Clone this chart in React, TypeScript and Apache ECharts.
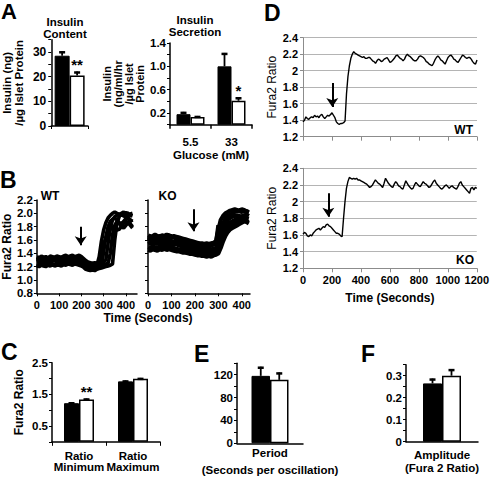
import React, { useEffect, useRef } from "react";
import * as echarts from "echarts";

const FONT = "Liberation Sans, Arial, sans-serif";
const NARROW = "Liberation Sans Narrow, Liberation Sans, Arial, sans-serif";

// ---- Panel A ----
const CONTENT_WT = [28.5];
const CONTENT_WT_ERR = [1.8];
const CONTENT_KO = [20.5];
const CONTENT_KO_ERR = [1.6];
const CONTENT_STARS = ["**"];

const GLUCOSE = ["5.5", "33"];
const SECRETION_WT = [0.18, 1.0];
const SECRETION_WT_ERR = [0.04, 0.23];
const SECRETION_KO = [0.13, 0.41];
const SECRETION_KO_ERR = [0.02, 0.06];
const SECRETION_STARS = ["", "*"];

// ---- Panel B (Fura2 ratio traces, sampled every 10 s) ----
const TIME_STEP = 10;
const B_RATIO_TICKS = [0.8, 1.0, 1.2, 1.4, 1.6, 1.8, 2.0, 2.2];
const B_WT_CELLS = [
  [1.30,1.32,1.29,1.31,1.30,1.33,1.31,1.30,1.32,1.31,1.30,1.32,1.33,1.31,1.32,1.34,1.33,1.32,1.33,1.31,1.30,1.28,1.25,1.24,1.23,1.22,1.23,1.22,1.35,1.58,1.75,1.86,1.93,1.97,2.00,2.02,2.00,1.98,1.97,1.99,2.01,2.00,1.97,1.96],
  [1.24,1.22,1.25,1.23,1.24,1.22,1.25,1.24,1.23,1.25,1.24,1.26,1.25,1.24,1.26,1.27,1.25,1.26,1.27,1.25,1.24,1.22,1.19,1.17,1.16,1.17,1.16,1.17,1.18,1.20,1.42,1.65,1.80,1.88,1.91,1.93,1.90,1.86,1.84,1.88,1.92,1.94,1.90,1.88],
  [1.35,1.33,1.36,1.34,1.35,1.33,1.36,1.35,1.34,1.36,1.35,1.34,1.36,1.37,1.35,1.36,1.37,1.35,1.36,1.37,1.35,1.32,1.29,1.27,1.26,1.25,1.26,1.25,1.26,1.25,1.27,1.30,1.55,1.78,1.90,1.95,1.97,1.99,1.98,1.96,1.95,1.97,1.99,2.00],
  [1.27,1.28,1.26,1.28,1.27,1.29,1.27,1.28,1.29,1.27,1.28,1.29,1.28,1.30,1.29,1.30,1.29,1.31,1.30,1.29,1.27,1.25,1.22,1.20,1.19,1.18,1.19,1.20,1.21,1.22,1.23,1.24,1.25,1.40,1.68,1.82,1.88,1.85,1.80,1.78,1.82,1.86,1.84,1.80],
  [1.21,1.20,1.22,1.21,1.20,1.22,1.21,1.23,1.21,1.22,1.22,1.21,1.23,1.22,1.24,1.23,1.22,1.24,1.23,1.22,1.21,1.19,1.16,1.15,1.14,1.15,1.14,1.16,1.17,1.18,1.19,1.20,1.21,1.22,1.24,1.60,1.85,1.95,2.00,2.02,1.98,1.92,1.88,1.90],
  [1.32,1.30,1.31,1.33,1.31,1.30,1.32,1.31,1.33,1.32,1.31,1.33,1.32,1.31,1.33,1.32,1.34,1.33,1.32,1.34,1.31,1.28,1.25,1.22,1.21,1.20,1.21,1.22,1.28,1.40,1.55,1.62,1.70,1.76,1.80,1.78,1.75,1.76,1.80,1.85,1.88,1.86,1.82,1.78],
];
const B_KO_CELLS = [
  [1.64,1.62,1.65,1.63,1.64,1.66,1.64,1.63,1.65,1.64,1.63,1.64,1.62,1.61,1.60,1.59,1.58,1.57,1.56,1.55,1.54,1.53,1.52,1.51,1.52,1.51,1.50,1.52,1.53,1.55,1.82,1.75,1.85,1.92,1.96,1.98,2.00,2.02,2.04,2.03,2.02,2.04,2.03,2.01],
  [1.59,1.60,1.58,1.60,1.59,1.61,1.59,1.60,1.58,1.59,1.58,1.57,1.58,1.56,1.55,1.54,1.53,1.52,1.51,1.50,1.49,1.48,1.47,1.46,1.47,1.46,1.45,1.46,1.47,1.48,1.60,1.72,1.80,1.86,1.90,1.93,1.95,1.96,1.97,1.96,1.95,1.97,1.98,1.96],
  [1.54,1.55,1.53,1.55,1.54,1.56,1.55,1.54,1.56,1.55,1.54,1.53,1.54,1.52,1.51,1.50,1.49,1.48,1.47,1.46,1.45,1.44,1.43,1.42,1.43,1.42,1.41,1.42,1.43,1.44,1.52,1.65,1.73,1.78,1.82,1.86,1.88,1.90,1.92,1.93,1.94,1.95,1.93,1.92],
  [1.49,1.48,1.50,1.49,1.48,1.50,1.49,1.51,1.49,1.50,1.49,1.48,1.47,1.46,1.46,1.45,1.44,1.43,1.42,1.41,1.40,1.39,1.39,1.38,1.37,1.38,1.37,1.38,1.39,1.42,1.50,1.62,1.70,1.74,1.78,1.81,1.84,1.86,1.87,1.88,1.90,1.89,1.88,1.87],
  [1.45,1.44,1.46,1.45,1.44,1.46,1.45,1.47,1.45,1.46,1.45,1.44,1.43,1.43,1.42,1.41,1.41,1.40,1.39,1.39,1.38,1.37,1.37,1.36,1.36,1.35,1.36,1.35,1.37,1.38,1.40,1.48,1.58,1.66,1.72,1.76,1.78,1.80,1.82,1.84,1.86,1.88,1.87,1.85],
  [1.67,1.65,1.66,1.68,1.66,1.65,1.67,1.66,1.68,1.67,1.65,1.66,1.65,1.64,1.63,1.62,1.61,1.60,1.59,1.58,1.57,1.56,1.55,1.55,1.54,1.55,1.54,1.55,1.56,1.58,1.75,1.90,1.96,2.00,2.02,2.04,2.05,2.06,2.05,2.04,2.06,2.05,2.03,2.02],
];
const B_WT_ARROW = [[197, 1.8], [197, 1.52]];
const B_KO_ARROW = [[194, 2.06], [194, 1.73]];

// ---- Panel C ----
const RATIO_CATS = ["Ratio\nMinimum", "Ratio\nMaximum"];
const RATIO_WT = [1.22, 1.91];
const RATIO_WT_ERR = [0.03, 0.03];
const RATIO_KO = [1.34, 1.99];
const RATIO_KO_ERR = [0.03, 0.03];
const RATIO_STARS = ["**", ""];

// ---- Panel D (single islets, sampled every 10 s) ----
const D_WT = [1.38,1.40,1.44,1.42,1.41,1.43,1.44,1.43,1.46,1.44,1.45,1.43,1.46,1.47,1.44,1.42,1.44,1.46,1.45,1.47,1.49,1.46,1.43,1.38,1.36,1.35,1.36,1.36,1.37,1.39,1.72,1.93,2.06,2.15,2.20,2.23,2.21,2.20,2.19,2.18,2.17,2.16,2.17,2.15,2.15,2.16,2.16,2.14,2.12,2.11,2.09,2.12,2.14,2.13,2.11,2.12,2.14,2.15,2.16,2.13,2.10,2.11,2.13,2.15,2.18,2.19,2.17,2.15,2.14,2.12,2.14,2.18,2.20,2.18,2.17,2.15,2.13,2.12,2.12,2.14,2.17,2.18,2.17,2.16,2.14,2.11,2.10,2.08,2.07,2.06,2.09,2.13,2.16,2.18,2.16,2.13,2.12,2.10,2.08,2.12,2.16,2.18,2.19,2.17,2.14,2.13,2.11,2.10,2.13,2.16,2.19,2.18,2.16,2.15,2.16,2.16,2.14,2.11,2.09,2.08,2.13];
const D_KO = [1.61,1.63,1.62,1.59,1.58,1.60,1.59,1.62,1.64,1.66,1.67,1.68,1.66,1.68,1.70,1.69,1.72,1.73,1.71,1.70,1.68,1.66,1.64,1.62,1.62,1.61,1.59,1.58,1.80,2.00,2.16,2.24,2.29,2.28,2.27,2.28,2.27,2.28,2.26,2.26,2.25,2.24,2.23,2.22,2.21,2.19,2.17,2.18,2.20,2.23,2.26,2.24,2.22,2.21,2.19,2.17,2.22,2.28,2.25,2.22,2.20,2.18,2.17,2.21,2.24,2.22,2.19,2.18,2.16,2.15,2.20,2.25,2.22,2.19,2.17,2.15,2.16,2.20,2.23,2.21,2.19,2.18,2.21,2.24,2.22,2.21,2.19,2.17,2.18,2.21,2.24,2.26,2.22,2.20,2.18,2.16,2.15,2.17,2.19,2.20,2.18,2.16,2.18,2.19,2.17,2.16,2.15,2.18,2.22,2.24,2.20,2.18,2.16,2.14,2.12,2.10,2.16,2.17,2.14,2.17,2.16];
const D_WT_ARROW = [[202, 1.85], [202, 1.56]];
const D_KO_ARROW = [[175, 2.1], [175, 1.82]];

// ---- Panel E ----
const PERIOD_CATS = ["Period"];
const PERIOD_WT = [118];
const PERIOD_WT_ERR = [16];
const PERIOD_KO = [111];
const PERIOD_KO_ERR = [13];

// ---- Panel F ----
const AMP_CATS = ["Amplitude"];
const AMP_WT = [0.265];
const AMP_WT_ERR = [0.022];
const AMP_KO = [0.3];
const AMP_KO_ERR = [0.03];

const BLACK = "#000";

const near = (a: number, b: number) => Math.abs(a - b) < 1e-6;

function tickLabelStyle(extra: any = {}) {
  return { color: BLACK, fontSize: 11, fontWeight: "bold", fontFamily: FONT, ...extra };
}
function axisNameStyle(extra: any = {}) {
  return { color: BLACK, fontSize: 11.5, fontWeight: "bold", fontFamily: FONT, lineHeight: 11.5, ...extra };
}
const blackLine = { show: true, lineStyle: { color: BLACK, width: 1.5 } };

function barPair(ax: number, wt: number[], ko: number[], bw: number) {
  return [
    {
      type: "bar", xAxisIndex: ax, yAxisIndex: ax, data: wt, barWidth: bw, barGap: "0%",
      itemStyle: { color: BLACK, borderColor: BLACK, borderWidth: 1 }, silent: true,
    },
    {
      type: "bar", xAxisIndex: ax, yAxisIndex: ax, data: ko, barWidth: bw, barGap: "0%",
      itemStyle: { color: "#fff", borderColor: BLACK, borderWidth: 1.5 }, silent: true,
    },
  ];
}

function errSeries(ax: number, vals: number[], errs: number[], side: number, bw: number, stars?: string[]) {
  return {
    type: "custom", xAxisIndex: ax, yAxisIndex: ax, z: 5, silent: true,
    data: vals.map((v, i) => [i, v, errs[i]]),
    encode: { x: 0, y: 1 },
    renderItem: (params: any, api: any) => {
      const i = api.value(0), v = api.value(1), e = api.value(2);
      const b = api.coord([i, v]);
      const t = api.coord([i, v + e]);
      const x = b[0] + (side * bw) / 2;
      const children: any[] = [
        { type: "line", shape: { x1: x, y1: b[1], x2: x, y2: t[1] }, style: { stroke: BLACK, lineWidth: 1.8 } },
        { type: "line", shape: { x1: x - 3, y1: t[1] + 1, x2: x + 3, y2: t[1] + 1 }, style: { stroke: BLACK, lineWidth: 2.5 } },
      ];
      const s = stars && stars[params.dataIndex];
      if (s) {
        children.push({
          type: "text",
          style: {
            text: s, x, y: t[1] - 7, fill: BLACK, fontSize: 15, fontWeight: "bold", fontFamily: FONT,
            align: "center", verticalAlign: "middle", textAlign: "center", textVerticalAlign: "middle",
          },
        });
      }
      return { type: "group", children };
    },
  };
}

function traceSeries(ax: number, vals: number[], width: number, arrow?: number[][]) {
  const s: any = {
    type: "line", xAxisIndex: ax, yAxisIndex: ax, showSymbol: false, symbol: "none", silent: true,
    data: vals.map((v, i) => [i * TIME_STEP, v]),
    lineStyle: { color: BLACK, width }, z: 3,
  };
  if (arrow) {
    s.markLine = {
      silent: true, symbol: ["none", "arrow"], symbolSize: [9, 9],
      label: { show: false },
      lineStyle: { color: BLACK, width: 2, type: "solid" },
      emphasis: { disabled: true },
      data: [[{ coord: arrow[0] }, { coord: arrow[1] }]],
    };
  }
  return s;
}

function gtext(text: string, x: number, y: number, opts: any = {}) {
  const align = opts.align || "left";
  const va = opts.va || "top";
  return {
    type: "text", x, y, silent: true,
    style: {
      text, fill: BLACK, fontSize: opts.size || 12, fontWeight: "bold", fontFamily: opts.family || FONT,
      lineHeight: opts.lh, align, verticalAlign: va, textAlign: align, textVerticalAlign: va,
    },
  };
}

export default function App() {
  const ref = useRef<HTMLDivElement>(null);
  useEffect(() => {
    if (!ref.current) return;
    const chart = echarts.init(ref.current, null, { renderer: "svg" });

    const bMin = B_RATIO_TICKS[0];
    const bMax = B_RATIO_TICKS[B_RATIO_TICKS.length - 1];

    const grids = [
      { left: 47, top: 39.7, width: 41, height: 86.3 }, // A left
      { left: 170, top: 43, width: 82, height: 81.7 }, // A right
      { left: 33, top: 200, width: 104, height: 93.3 }, // B WT
      { left: 148, top: 200, width: 102, height: 93.3 }, // B KO
      { left: 303, top: 37.7, width: 174, height: 99 }, // D WT
      { left: 303, top: 168.3, width: 174, height: 100 }, // D KO
      { left: 52, top: 362.7, width: 108, height: 79.1 }, // C
      { left: 237, top: 363.3, width: 66, height: 80.7 }, // E
      { left: 406, top: 364.7, width: 72, height: 77 }, // F
    ].map((g) => ({ ...g, containLabel: false }));

    const grayAxis = { show: true, lineStyle: { color: "#8c8c8c", width: 1 } };

    const xAxis: any[] = [
      { gridIndex: 0, type: "category", data: [""], axisLine: blackLine, axisTick: { show: true, length: 3, lineStyle: { color: BLACK } }, axisLabel: { show: false } },
      {
        gridIndex: 1, type: "category", data: GLUCOSE, axisLine: blackLine,
        axisTick: { show: true, length: 4, lineStyle: { color: BLACK, width: 1.5 } },
        axisLabel: tickLabelStyle({ margin: 11, fontSize: 11.5, interval: 0 }),
        name: "Glucose (mM)", nameLocation: "middle", nameGap: 25, nameTextStyle: axisNameStyle(),
      },
      {
        gridIndex: 2, type: "value", min: 0, max: 450, interval: 100, axisLine: blackLine,
        axisTick: { show: true, length: 3, lineStyle: { color: BLACK } },
        axisLabel: tickLabelStyle({ margin: 6, showMaxLabel: false }), splitLine: { show: false },
      },
      {
        gridIndex: 3, type: "value", min: 0, max: 435, interval: 100, axisLine: blackLine,
        axisTick: { show: true, length: 3, lineStyle: { color: BLACK } },
        axisLabel: tickLabelStyle({ margin: 6 }), splitLine: { show: false },
      },
      {
        gridIndex: 4, type: "value", min: 0, max: 1200, interval: 200, axisLine: grayAxis,
        axisTick: { show: true, length: 4, lineStyle: { color: "#8c8c8c" } },
        axisLabel: { show: false }, splitLine: { show: false },
      },
      {
        gridIndex: 5, type: "value", min: 0, max: 1200, interval: 200, axisLine: grayAxis,
        axisTick: { show: true, length: 4, lineStyle: { color: "#8c8c8c" } },
        axisLabel: tickLabelStyle({ margin: 6, formatter: (v: number) => String(v) }), splitLine: { show: false },
        name: "Time (Seconds)", nameLocation: "middle", nameGap: 24, nameTextStyle: axisNameStyle({ fontSize: 12 }),
      },
      {
        gridIndex: 6, type: "category", data: RATIO_CATS, axisLine: blackLine,
        axisTick: { show: true, length: 4, lineStyle: { color: BLACK } },
        axisLabel: tickLabelStyle({ margin: 8, fontSize: 11.5, lineHeight: 11.5, interval: 0 }),
      },
      {
        gridIndex: 7, type: "category", data: PERIOD_CATS, axisLine: blackLine, axisTick: { show: false },
        axisLabel: tickLabelStyle({ margin: 4, fontSize: 11.5, interval: 0 }),
        name: "(Seconds per oscillation)", nameLocation: "middle", nameGap: 21, nameTextStyle: axisNameStyle(),
      },
      {
        gridIndex: 8, type: "category", data: AMP_CATS, axisLine: blackLine, axisTick: { show: false },
        axisLabel: tickLabelStyle({ margin: 7, fontSize: 11.5, interval: 0 }),
        name: "(Fura 2 Ratio)", nameLocation: "middle", nameGap: 21, nameTextStyle: axisNameStyle(),
      },
    ];

    const blackYTick = { show: true, length: 3, lineStyle: { color: BLACK } };
    const yAxis: any[] = [
      {
        gridIndex: 0, type: "value", min: 0, max: 35, interval: 5, axisLine: blackLine, axisTick: blackYTick,
        splitLine: { show: false },
        axisLabel: tickLabelStyle({ fontSize: 12, margin: 5, formatter: (v: number) => (near(v % 10, 0) ? String(v) : "") }),
        name: "Insulin (ng)\n/µg Islet Protein", nameLocation: "middle", nameGap: 27, nameTextStyle: axisNameStyle({ fontSize: 11.5 }),
      },
      {
        gridIndex: 1, type: "value", min: 0, max: 1.4, interval: 0.2, axisLine: blackLine, axisTick: blackYTick,
        splitLine: { show: false },
        axisLabel: tickLabelStyle({ fontSize: 11.5, margin: 4, formatter: (v: number) => (Math.round(v * 10) % 4 === 2 ? v.toFixed(1) : "") }),
        name: "Insulin\n(ng/ml/hr\n/µg Islet\nProtein", nameLocation: "middle", nameGap: 25, nameTextStyle: axisNameStyle({ fontSize: 11, lineHeight: 11 }),
      },
      {
        gridIndex: 2, type: "value", min: bMin, max: bMax,
        axisLine: blackLine,
        axisTick: { ...blackYTick, customValues: B_RATIO_TICKS },
        splitLine: { show: false },
        axisLabel: tickLabelStyle({ fontSize: 11.5, lineHeight: 11, margin: 4, customValues: B_RATIO_TICKS, formatter: (v: number) => v.toFixed(1) }),
        name: "Fura2 Ratio", nameLocation: "middle", nameGap: 21, nameTextStyle: axisNameStyle({ fontSize: 12 }),
      },
      {
        gridIndex: 3, type: "value", min: bMin, max: bMax,
        axisLine: blackLine, axisTick: { ...blackYTick, customValues: B_RATIO_TICKS },
        splitLine: { show: false }, axisLabel: { show: false },
      },
      {
        gridIndex: 4, type: "value", min: 1.2, max: 2.4, interval: 0.2, axisLine: grayAxis,
        axisTick: { show: true, length: 3, lineStyle: { color: "#8c8c8c" } },
        splitLine: { show: true, lineStyle: { color: "#b4b4b4", width: 1 } },
        axisLabel: tickLabelStyle({ margin: 5, formatter: (v: number) => String(Number(v.toFixed(1))) }),
        name: "Fura2 Ratio", nameLocation: "middle", nameGap: 25, nameTextStyle: axisNameStyle({ fontWeight: "normal", fontSize: 12 }),
      },
      {
        gridIndex: 5, type: "value", min: 1.2, max: 2.4, interval: 0.2, axisLine: grayAxis,
        axisTick: { show: true, length: 3, lineStyle: { color: "#8c8c8c" } },
        splitLine: { show: true, lineStyle: { color: "#b4b4b4", width: 1 } },
        axisLabel: tickLabelStyle({ margin: 5, formatter: (v: number) => String(Number(v.toFixed(1))) }),
        name: "Fura2 Ratio", nameLocation: "middle", nameGap: 25, nameTextStyle: axisNameStyle({ fontWeight: "normal", fontSize: 12 }),
      },
      {
        gridIndex: 6, type: "value", min: 0, max: 2.5, interval: 0.5, axisLine: blackLine, axisTick: blackYTick,
        splitLine: { show: false },
        axisLabel: tickLabelStyle({ fontSize: 11.5, margin: 4, formatter: (v: number) => (Math.round(v * 10) % 10 === 5 ? v.toFixed(1) : "") }),
        name: "Fura2 Ratio", nameLocation: "middle", nameGap: 27, nameTextStyle: axisNameStyle({ fontSize: 12 }),
      },
      {
        gridIndex: 7, type: "value", min: 0, max: 140, interval: 20, axisLine: blackLine, axisTick: blackYTick,
        splitLine: { show: false },
        axisLabel: tickLabelStyle({ fontSize: 11.5, margin: 4, formatter: (v: number) => (v % 40 === 0 ? String(v) : "") }),
      },
      {
        gridIndex: 8, type: "value", min: 0, max: 0.35, interval: 0.05, axisLine: blackLine, axisTick: blackYTick,
        splitLine: { show: false },
        axisLabel: tickLabelStyle({
          fontSize: 11.5, margin: 4,
          formatter: (v: number) => { const k = Math.round(v * 100); return k % 10 === 0 ? (k === 0 ? "0" : (k / 100).toFixed(1)) : ""; },
        }),
      },
    ];

    const series: any[] = [
      ...barPair(0, CONTENT_WT, CONTENT_KO, 15),
      errSeries(0, CONTENT_WT, CONTENT_WT_ERR, -1, 15),
      errSeries(0, CONTENT_KO, CONTENT_KO_ERR, 1, 15, CONTENT_STARS),
      ...barPair(1, SECRETION_WT, SECRETION_KO, 14),
      errSeries(1, SECRETION_WT, SECRETION_WT_ERR, -1, 14),
      errSeries(1, SECRETION_KO, SECRETION_KO_ERR, 1, 14, SECRETION_STARS),
      ...B_WT_CELLS.map((c, i) => traceSeries(2, c, 3.6, i === 0 ? B_WT_ARROW : undefined)),
      ...B_KO_CELLS.map((c, i) => traceSeries(3, c, 4.2, i === 0 ? B_KO_ARROW : undefined)),
      traceSeries(4, D_WT, 1.4, D_WT_ARROW),
      traceSeries(5, D_KO, 1.4, D_KO_ARROW),
      ...barPair(6, RATIO_WT, RATIO_KO, 15),
      errSeries(6, RATIO_WT, RATIO_WT_ERR, -1, 15),
      errSeries(6, RATIO_KO, RATIO_KO_ERR, 1, 15, RATIO_STARS),
      ...barPair(7, PERIOD_WT, PERIOD_KO, 18.5),
      errSeries(7, PERIOD_WT, PERIOD_WT_ERR, -1, 18.5),
      errSeries(7, PERIOD_KO, PERIOD_KO_ERR, 1, 18.5),
      ...barPair(8, AMP_WT, AMP_KO, 19),
      errSeries(8, AMP_WT, AMP_WT_ERR, -1, 19),
      errSeries(8, AMP_KO, AMP_KO_ERR, 1, 19),
    ];

    const graphic = [
      gtext("A", 1, 0, { size: 22, lh: 22 }),
      gtext("B", 0, 168, { size: 23, lh: 23 }),
      gtext("C", 1, 340, { size: 23, lh: 23 }),
      gtext("D", 264, 1, { size: 23, lh: 23 }),
      gtext("E", 194, 342, { size: 23, lh: 23 }),
      gtext("F", 361, 342, { size: 23, lh: 23 }),
      gtext("Insulin\nContent", 65, 27.5, { align: "center", va: "middle", lh: 12, size: 11.5 }),
      gtext("Insulin\nSecretion", 195, 25.5, { align: "center", va: "middle", lh: 12, size: 11.5 }),
      gtext("WT", 50, 196, { align: "center", va: "middle", size: 12, family: NARROW }),
      gtext("KO", 167.5, 196, { align: "center", va: "middle", size: 12, family: NARROW }),
      gtext("Time (Seconds)", 148, 318, { align: "center", va: "middle", size: 12 }),
      gtext("WT", 473, 130, { align: "right", va: "middle", size: 12, family: NARROW }),
      gtext("KO", 474, 259.5, { align: "right", va: "middle", size: 12, family: NARROW }),
    ];

    chart.setOption({
      animation: false,
      backgroundColor: "#fff",
      textStyle: { fontFamily: FONT },
      grid: grids,
      xAxis,
      yAxis,
      series,
      graphic,
    });
    return () => chart.dispose();
  }, []);

  return (
    <div
      ref={ref}
      style={{ position: "fixed", left: 0, top: 0, width: 492, height: 477, background: "#fff" }}
    />
  );
}
